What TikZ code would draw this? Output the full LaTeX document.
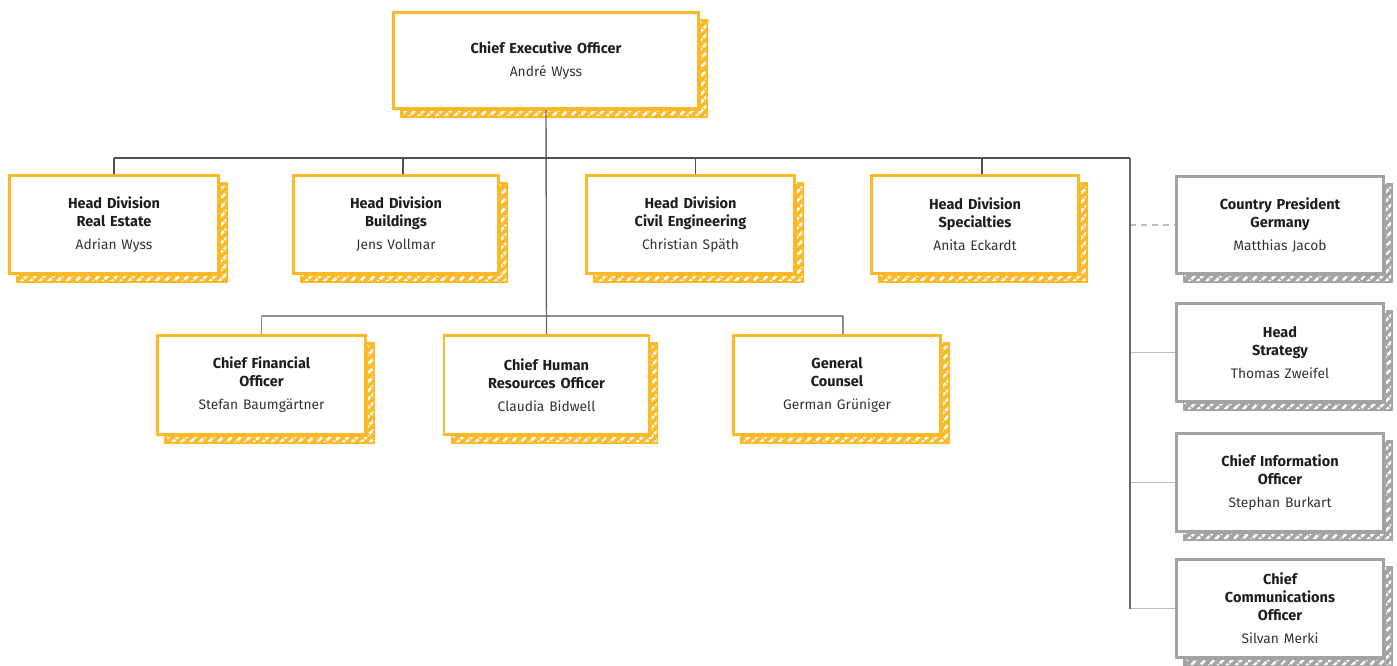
\documentclass[tikz,border=0pt]{standalone}
\usepackage{fontspec}
\setmainfont{Fira Sans}
\usetikzlibrary{patterns.meta}
\definecolor{ybord}{HTML}{FDB827}
\definecolor{gbord}{HTML}{A3A3A3}
\definecolor{txtd}{HTML}{1E1E1E}
\definecolor{txtn}{HTML}{333333}
\definecolor{lndark}{HTML}{505050}
\definecolor{lnmid}{HTML}{6A6A6A}
\definecolor{lnlight}{HTML}{BDBDBD}
\pgfdeclarelayer{bg}
\pgfsetlayers{bg,main}
\newcommand\orgshadow[2]{%
  \fill[#2] ([shift={(6.7pt,-6.7pt)}]#1.north west) rectangle ([shift={(9.3pt,-9.3pt)}]#1.south east);
  \fill[even odd rule, pattern={Lines[angle=45,distance=6.5pt,line width=3pt]}, pattern color=white]
    ([shift={(10pt,-10pt)}]#1.north west) rectangle ([shift={(7.6pt,-7.6pt)}]#1.south east)
    (#1.north west) rectangle ([shift={(2.5pt,-2.5pt)}]#1.south east);
}
\newcommand\orgtext[2]{{\bfseries #1\par}\vspace{5pt}{\color{txtn}\fontsize{13.8}{18}\selectfont #2\par}}
\begin{document}
\begin{tikzpicture}[x=1pt,y=-1pt,
  obox/.style={draw=ybord, line width=2.6pt, fill=white, outer sep=0pt, inner sep=2pt,
    text width=200pt, align=center, minimum height=98pt, text=txtd,
    font=\fontsize{14.5}{18}\selectfont},
  gbox/.style={obox, draw=gbord},
  dk/.style={draw=lndark, line width=1.2pt},
  md/.style={draw=lnmid, line width=1.4pt},
  lt/.style={draw=lnlight, line width=1.5pt},
  lt2/.style={draw=lnlight!75!black, line width=1.4pt}]
\useasboundingbox (0,0) rectangle (1397,665);

\node[obox, minimum width=305pt, minimum height=96pt] (ceo) at (546,60.5)
  {\orgtext{Chief Executive Officer}{André Wyss}};

\node[obox, minimum width=209pt] (re) at (114,224.5)
  {\orgtext{Head Division\\Real Estate}{Adrian Wyss}};
\node[obox, minimum width=205pt] (bu) at (396,224.5)
  {\orgtext{Head Division\\Buildings}{Jens Vollmar}};
\node[obox, minimum width=208pt] (ce) at (690.5,224.5)
  {\orgtext{Head Division\\Civil Engineering}{Christian Späth}};
\node[obox, minimum width=207pt] (sp) at (975,224.5)
  {\orgtext{Head Division\\Specialties}{Anita Eckardt}};

\node[obox, minimum width=208pt, minimum height=99pt] (cfo) at (261.5,385)
  {\orgtext{Chief Financial\\Officer}{Stefan Baumgärtner}};
\node[obox, minimum width=205pt, minimum height=99pt] (chro) at (546.5,385)
  {\orgtext{Chief Human\\Resources Officer}{Claudia Bidwell}};
\node[obox, minimum width=207pt, minimum height=99pt] (gc) at (837,385)
  {\orgtext{General\\Counsel}{German Grüniger}};

\node[gbox, minimum width=207pt, minimum height=97pt] (cp) at (1280,225)
  {\orgtext{Country President\\Germany}{Matthias Jacob}};
\node[gbox, minimum width=207pt] (hs) at (1280,352.5)
  {\orgtext{Head\\Strategy}{Thomas Zweifel}};
\node[gbox, minimum width=207pt] (cio) at (1280,482.5)
  {\orgtext{Chief Information\\Officer}{Stephan Burkart}};
\node[gbox, minimum width=207pt] (cco) at (1280,608.5)
  {\orgtext{Chief\\Communications\\Officer}{Silvan Merki}};

\coordinate (busL) at (114,158);
\coordinate (busR) at (1130,158);
\coordinate (rowtwo) at (548,316);
\coordinate (buT) at ([xshift=7pt]bu.north);
\coordinate (ceT) at ([xshift=5pt]ce.north);
\coordinate (spT) at ([xshift=7pt]sp.north);
\coordinate (gcT) at ([xshift=6pt]gc.north);

\begin{pgfonlayer}{bg}
  \fill[white] (0,0) rectangle (1397,665);
  \orgshadow{ceo}{ybord}
  \orgshadow{re}{ybord}
  \orgshadow{bu}{ybord}
  \orgshadow{ce}{ybord}
  \orgshadow{sp}{ybord}
  \orgshadow{cfo}{ybord}
  \orgshadow{chro}{ybord}
  \orgshadow{gc}{ybord}
  \orgshadow{cp}{gbord}
  \orgshadow{hs}{gbord}
  \orgshadow{cio}{gbord}
  \orgshadow{cco}{gbord}

  % row 2 bus
  \draw[lt2] (cfo.north |- rowtwo) -- (gcT |- rowtwo);
  \draw[lt2] (cfo.north |- rowtwo) -- (cfo.north);
  \draw[lt2] (gcT |- rowtwo) -- (gcT);
  % CEO trunk
  \draw[md] (ceo.south) -- (chro.north);
  % top bus
  \draw[dk] (busL) -- (busR);
  \draw[dk] (busL) -- (re.north);
  \draw[dk] (buT |- busL) -- (buT);
  \draw[dk] (ceT |- busL) -- (ceT);
  \draw[dk] (spT |- busL) -- (spT);
  % right column
  \draw[lt] (busR |- hs.west) -- (hs.west);
  \draw[lt] (busR |- cio.west) -- (cio.west);
  \draw[lt] (busR |- cco.west) -- (cco.west);
  \draw[lt, dash pattern=on 6pt off 5pt] (busR |- cp.west) -- (cp.west);
  \draw[md] (busR) -- (busR |- cco.west);
\end{pgfonlayer}
\end{tikzpicture}
\end{document}
